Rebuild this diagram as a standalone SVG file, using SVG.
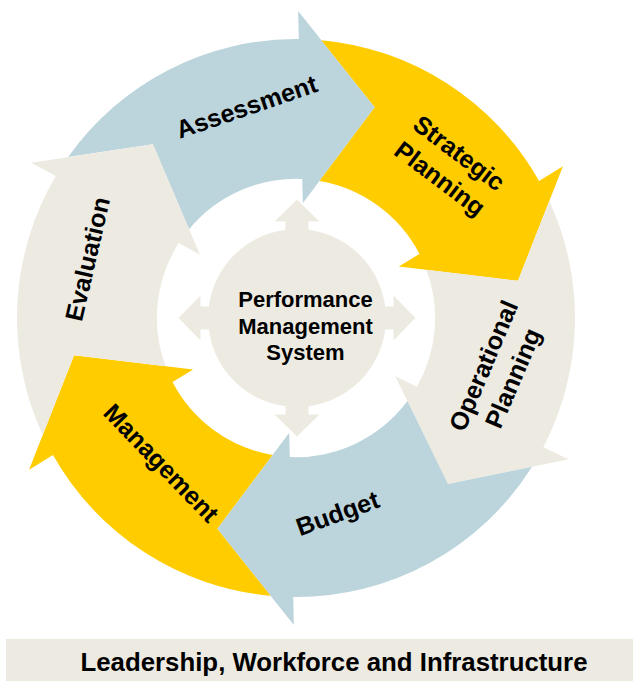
<svg xmlns="http://www.w3.org/2000/svg" width="634" height="681" viewBox="0 0 634 681">
  <style>
    .lbl { font-family: "Liberation Sans", Arial, sans-serif; font-weight: bold; fill: #000; text-anchor: middle; }
    .seg { font-size: 25px; }
    .hub { font-size: 22px; }
    .base { font-size: 25.8px; }
    .blue { fill: #BCD5DC; }
    .gold { fill: #FFCC00; }
    .sand { fill: #EDEBE1; }
  </style>
  <defs>
    <!-- ring segment with arrowhead; tail notch follows the previous head (60 deg back) -->
    <path id="seg60" d="M-227.92,-160.9 A279,279 0 0 1 2.82,-279 L2.14,-307 L78.8,-210.8 L6.82,-114.8 L6.23,-139 A139,139 0 0 0 -106.91,-88.84 L-143.15,-173.64 Z"/>
    <!-- same segment, previous head 57 deg back -->
    <path id="seg57" d="M-219.2,-172.6 A279,279 0 0 1 2.82,-279 L2.14,-307 L78.8,-210.8 L6.82,-114.8 L6.23,-139 A139,139 0 0 0 -102.12,-94.31 L-133.89,-180.89 Z"/>
    <!-- same segment, previous head 63 deg back -->
    <path id="seg63" d="M-236.04,-148.75 A279,279 0 0 1 2.82,-279 L2.14,-307 L78.8,-210.8 L6.82,-114.8 L6.23,-139 A139,139 0 0 0 -111.42,-83.12 L-152.04,-165.91 Z"/>
  </defs>

  <rect width="634" height="681" fill="#FFFFFF"/>

  <g id="assessment">
    <use href="#seg60" class="blue" transform="translate(296 318) rotate(0)"/>
    <text class="lbl seg" transform="translate(249.5 115) rotate(-18.9)">Assessment</text>
  </g>

  <g id="strategic-planning">
    <use href="#seg60" class="gold" transform="translate(296 318) rotate(60)"/>
    <text class="lbl seg" transform="translate(454 160) rotate(37)"><tspan x="0" y="0">Strategic</tspan><tspan x="0" y="32">Planning</tspan></text>
  </g>

  <g id="operational-planning">
    <use href="#seg57" class="sand" transform="translate(296 318) rotate(117)"/>
    <text class="lbl seg" transform="translate(491.5 369) rotate(-67)"><tspan x="0" y="0">Operational</tspan><tspan x="0" y="32">Planning</tspan></text>
  </g>

  <g id="budget">
    <use href="#seg63" class="blue" transform="translate(296 318) rotate(180)"/>
    <text class="lbl seg" transform="translate(340.5 521.5) rotate(-20)">Budget</text>
  </g>

  <g id="management">
    <use href="#seg60" class="gold" transform="translate(296 318) rotate(240)"/>
    <text class="lbl seg" transform="translate(155 469) rotate(46)">Management</text>
  </g>

  <g id="evaluation">
    <use href="#seg60" class="sand" transform="translate(296 318) rotate(300)"/>
    <text class="lbl seg" transform="translate(96 261) rotate(-77)">Evaluation</text>
  </g>

  <g id="performance-management-system">
    <path class="sand" transform="translate(297 318)" d="M0,-118.5 L22.5,-96.5 L11.5,-96.5 L11.5,-11.5 L96.5,-11.5 L96.5,-22.5 L118.5,0 L96.5,22.5 L96.5,11.5 L11.5,11.5 L11.5,96.5 L22.5,96.5 L0,118.5 L-22.5,96.5 L-11.5,96.5 L-11.5,11.5 L-96.5,11.5 L-96.5,22.5 L-118.5,0 L-96.5,-22.5 L-96.5,-11.5 L-11.5,-11.5 L-11.5,-96.5 L-22.5,-96.5 Z"/>
    <circle class="sand" cx="297" cy="318" r="89"/>
    <text class="lbl hub"><tspan x="305.5" y="307">Performance</tspan><tspan x="305.5" y="334">Management</tspan><tspan x="305.5" y="360">System</tspan></text>
  </g>

  <g id="foundation">
    <rect class="sand" x="6" y="639" width="627" height="42"/>
    <text class="lbl base" x="334" y="671">Leadership, Workforce and Infrastructure</text>
  </g>
</svg>
